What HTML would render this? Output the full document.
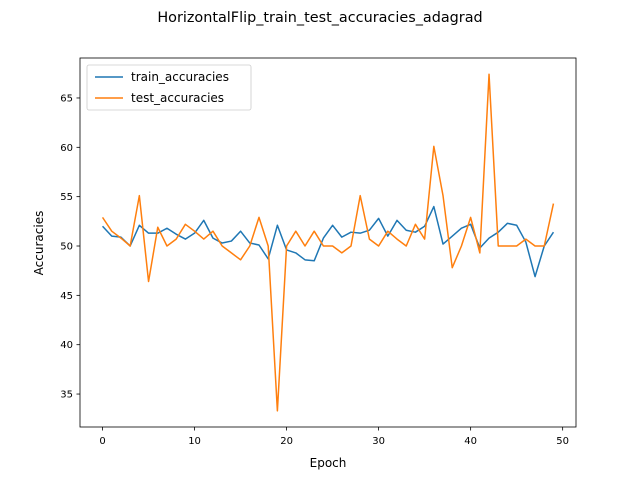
<!DOCTYPE html>
<html><head><meta charset="utf-8"><style>body{margin:0;background:#fff}svg{font-family:"DejaVu Sans","Liberation Sans",sans-serif}</style></head>
<body>
<svg id="c" width="640" height="480" xmlns="http://www.w3.org/2000/svg">
<rect width="640" height="480" fill="#fff"/>
<text x="320" y="22" text-anchor="middle" font-size="14.4">HorizontalFlip_train_test_accuracies_adagrad</text>
<text x="328" y="467" text-anchor="middle" font-size="12">Epoch</text>
<text transform="translate(43,243) rotate(-90)" text-anchor="middle" font-size="12">Accuracies</text>
<g id="plot"></g>
</svg>
<script>
const epochs=[...Array(50).keys()];
const trainAcc=[52.0,51.0,50.9,50.0,52.1,51.3,51.3,51.8,51.2,50.7,51.3,52.6,50.8,50.3,50.5,51.5,50.3,50.1,48.7,52.1,49.6,49.3,48.6,48.5,50.8,52.1,50.9,51.4,51.3,51.6,52.8,51.0,52.6,51.6,51.4,52.0,54.0,50.2,51.0,51.8,52.2,49.8,50.8,51.4,52.3,52.1,50.4,46.9,50.0,51.4];
const testAcc=[52.9,51.5,50.8,50.0,55.1,46.4,51.9,50.0,50.7,52.2,51.5,50.7,51.5,50.0,49.3,48.6,50.0,52.9,50.0,33.3,50.0,51.5,50.0,51.5,50.0,50.0,49.3,50.0,55.1,50.7,50.0,51.5,50.7,50.0,52.2,50.7,60.1,55.1,47.8,50.0,52.9,49.3,67.4,50.0,50.0,50.0,50.7,50.0,50.0,54.3];
const xTicks=[0,10,20,30,40,50];
const yTicks=[35,40,45,50,55,60,65];
const L=80,R=576,T=58,B=427;
const xmin=-2.45,xmax=51.45,ymin=31.66,ymax=69.05;
const X=v=>L+(v-xmin)/(xmax-xmin)*(R-L);
const Y=v=>B-(v-ymin)/(ymax-ymin)*(B-T);
const NS="http://www.w3.org/2000/svg";
const g=document.getElementById('plot');
function mk(t,a){const e=document.createElementNS(NS,t);for(const k in a)e.setAttribute(k,a[k]);g.appendChild(e);return e;}
function line(data,color,name){
  const p=mk('polyline',{points:data.map((v,i)=>X(epochs[i])+','+Y(v)).join(' '),fill:'none',stroke:color,'stroke-width':1.5,'stroke-linejoin':'round'});
  
  
}
line(trainAcc,'#1f77b4','train-line');
line(testAcc,'#ff7f0e','test-line');
const frame=mk('rect',{x:L,y:T,width:R-L,height:B-T,fill:'none',stroke:'#000','stroke-width':0.8});


xTicks.forEach(v=>{
  mk('line',{x1:X(v),x2:X(v),y1:B,y2:B+3.5,stroke:'#000','stroke-width':0.8});
  const t=mk('text',{x:X(v),y:B+17,'text-anchor':'middle','font-size':10});t.textContent=v;
  
  
});
yTicks.forEach(v=>{
  mk('line',{x1:L-3.5,x2:L,y1:Y(v),y2:Y(v),stroke:'#000','stroke-width':0.8});
  const t=mk('text',{x:L-7,y:Y(v)+3.5,'text-anchor':'end','font-size':10});t.textContent=v;
  
  
});
const lg=mk('rect',{x:87,y:65,width:164,height:45,rx:2,fill:'#fff','fill-opacity':0.8,stroke:'#ccc','stroke-width':0.8});


[['train_accuracies','#1f77b4',77],['test_accuracies','#ff7f0e',98]].forEach(([n,c,y])=>{
  mk('line',{x1:95,x2:123,y1:y,y2:y,stroke:c,'stroke-width':1.5});
  const t=mk('text',{x:131,y:y+4,'font-size':12});t.textContent=n;
  
  
});
</script>
</body></html>
